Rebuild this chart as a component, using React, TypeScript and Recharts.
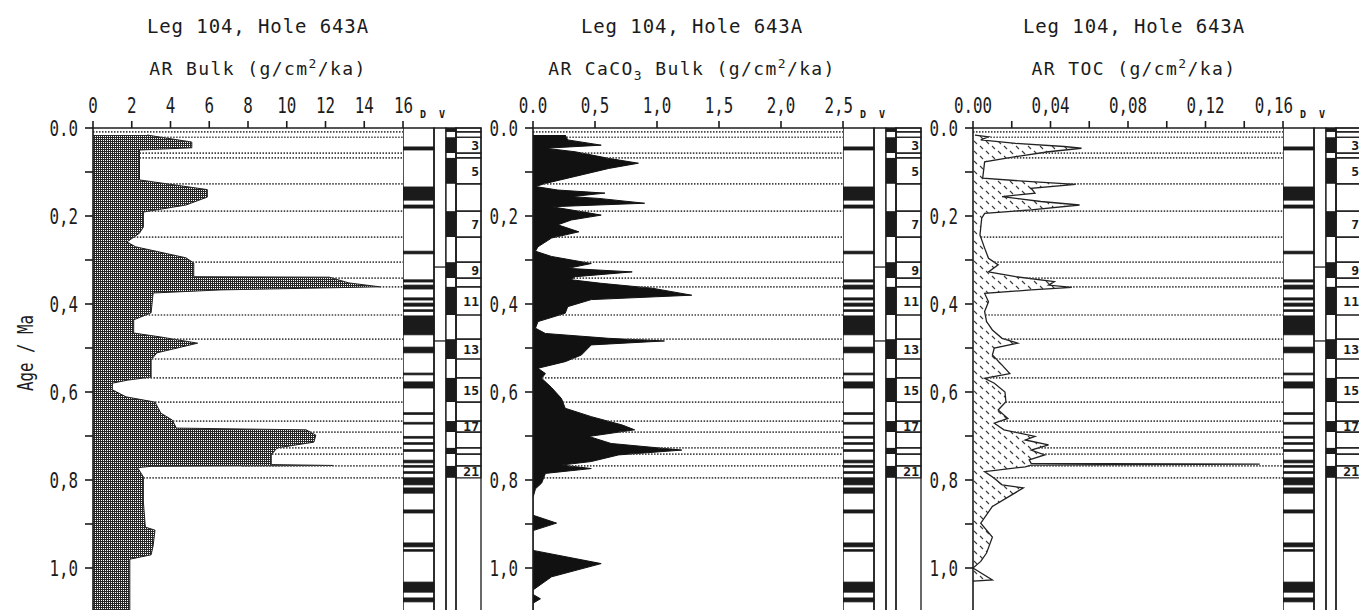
import React from "react";
import {
  ComposedChart,
  Area,
  Line,
  XAxis,
  YAxis,
  ReferenceLine,
  ReferenceArea,
} from "recharts";

// AR Bulk (age in Ma, rate in g/cm2/ka)
const bulkAge = [
  0.016, 0.032, 0.045, 0.05, 0.118, 0.14, 0.157, 0.175, 0.191, 0.225, 0.239,
  0.259, 0.27, 0.295, 0.307, 0.338, 0.339, 0.352, 0.361, 0.368, 0.375, 0.42,
  0.436, 0.466, 0.475, 0.489, 0.511, 0.527, 0.566, 0.573, 0.58, 0.595, 0.611,
  0.623, 0.648, 0.664, 0.682, 0.686, 0.698, 0.714, 0.727, 0.743, 0.765, 0.767,
  0.769, 0.772, 0.793, 0.85, 0.907, 0.914, 0.95, 0.97, 0.98, 1.1,
];
const bulkRate = [
  2.8, 5.1, 5.1, 2.4, 2.4, 5.9, 5.9, 4.8, 2.6, 2.6, 2.4, 1.75, 2.2, 4.8, 5.2,
  5.2, 12.2, 13.2, 14.8, 6.6, 3.1, 3.0, 2.1, 2.1, 3.5, 5.4, 3.3, 3.0, 3.0, 1.8,
  1.0, 1.0, 1.7, 3.2, 3.5, 4.1, 4.3, 11.0, 11.5, 11.4, 9.5, 9.2, 9.2, 12.4, 3.0,
  2.3, 2.6, 2.6, 2.7, 3.2, 3.1, 3.0, 1.9, 1.9,
];

// AR CaCO3 bulk, middle plot
const carbAge = [
  0.016, 0.027, 0.039, 0.046, 0.054, 0.069, 0.08, 0.092, 0.11, 0.126, 0.133,
  0.141, 0.148, 0.156, 0.16, 0.171, 0.179, 0.19, 0.198, 0.209, 0.22, 0.236,
  0.25, 0.27, 0.28, 0.292, 0.308, 0.319, 0.327, 0.338, 0.345, 0.353, 0.364,
  0.38, 0.39, 0.406, 0.421, 0.44, 0.455, 0.467, 0.478, 0.484, 0.493, 0.516,
  0.531, 0.546, 0.558, 0.569, 0.59, 0.615, 0.637, 0.656, 0.675, 0.686, 0.701,
  0.717, 0.732, 0.743, 0.758, 0.766, 0.774, 0.785, 0.807, 0.82, 0.84, 0.88,
  0.898, 0.915, 0.96, 0.99, 1.02, 1.05, 1.06, 1.07, 1.08, 1.1,
];
const carbRate = [
  0.26, 0.28, 0.55, 0.1, 0.34, 0.61, 0.85, 0.61, 0.34, 0.1, 0.02, 0.2, 0.58,
  0.31, 0.53, 0.9, 0.15, 0.39, 0.55, 0.31, 0.2, 0.37, 0.15, 0.04, 0.02, 0.15,
  0.47, 0.28, 0.8, 0.34, 0.31, 0.55, 0.96, 1.28, 0.47, 0.28, 0.26, 0.04, 0.02,
  0.1, 0.61, 1.06, 0.47, 0.39, 0.26, 0.04, 0.1, 0.07, 0.15, 0.23, 0.26, 0.47,
  0.72, 0.82, 0.45, 0.63, 1.2, 0.69, 0.47, 0.23, 0.47, 0.1, 0.07, 0.02, 0.0,
  0.0, 0.19, 0.0, 0.0, 0.55, 0.15, 0.0, 0.0, 0.06, 0.0, 0.0,
];

// AR TOC, right plot
const tocAge = [
  0.016, 0.02, 0.027, 0.035, 0.042, 0.046, 0.054, 0.065, 0.077, 0.114, 0.122,
  0.128, 0.137, 0.148, 0.156, 0.167, 0.175, 0.186, 0.194, 0.205, 0.243, 0.273,
  0.296, 0.311, 0.327, 0.338, 0.349, 0.357, 0.362, 0.368, 0.376, 0.395, 0.417,
  0.44, 0.459, 0.478, 0.489, 0.5, 0.516, 0.539, 0.558, 0.569, 0.58, 0.6, 0.622,
  0.641, 0.66, 0.671, 0.686, 0.701, 0.709, 0.72, 0.732, 0.743, 0.754, 0.762,
  0.764, 0.766, 0.77, 0.781, 0.796, 0.811, 0.818, 0.86, 0.898, 0.93, 0.966,
  0.985, 1.0, 1.027, 1.03,
];
const tocRate = [
  0.001, 0.008, 0.004, 0.022, 0.047, 0.056, 0.039, 0.022, 0.006, 0.005, 0.03,
  0.053, 0.03, 0.032, 0.015, 0.035, 0.055, 0.03, 0.006, 0.0045, 0.0036, 0.006,
  0.008, 0.013, 0.008, 0.022, 0.042, 0.039, 0.051, 0.03, 0.006, 0.008, 0.006,
  0.007, 0.01, 0.015, 0.023, 0.011, 0.01, 0.015, 0.019, 0.006, 0.011, 0.0165,
  0.017, 0.013, 0.018, 0.011, 0.016, 0.032, 0.027, 0.039, 0.03, 0.037, 0.029,
  0.03, 0.148, 0.03, 0.027, 0.006, 0.011, 0.015, 0.026, 0.01, 0.004, 0.01,
  0.007, 0.004, 0.0, 0.01, 0.0,
];

// isotope stage boundaries (Ma), stage n ends at stageBounds[n-1]
const stageBounds = [
  0.009, 0.021, 0.057, 0.068, 0.127, 0.189, 0.248, 0.305, 0.341, 0.361, 0.425,
  0.48, 0.525, 0.568, 0.623, 0.666, 0.691, 0.727, 0.741, 0.768, 0.795,
];
const stageNumbers = [3, 5, 7, 9, 11, 13, 15, 17, 21];

// D column black bands (top, bottom in Ma)
const dTop = [
  0.043, 0.134, 0.175, 0.28, 0.345, 0.357, 0.386, 0.398, 0.413, 0.427, 0.498,
  0.557, 0.577, 0.647, 0.669, 0.701, 0.715, 0.731, 0.755, 0.767, 0.781, 0.795,
  0.818, 0.868, 0.943, 0.958, 1.032, 1.068,
];
const dBottom = [
  0.05, 0.164, 0.182, 0.286, 0.35, 0.366, 0.391, 0.405, 0.417, 0.47, 0.511,
  0.561, 0.591, 0.651, 0.673, 0.705, 0.719, 0.735, 0.761, 0.771, 0.785, 0.811,
  0.83, 0.875, 0.952, 0.962, 1.055, 1.077,
];
// V column steps
const vSteps = [0.316, 0.484];

const ageTicks = [0, 0.1, 0.2, 0.3, 0.4, 0.5, 0.6, 0.7, 0.8, 0.9, 1.0, 1.1];
const bulkTicks = [0, 2, 4, 6, 8, 10, 12, 14, 16];
const carbTicks = [0, 0.5, 1.0, 1.5, 2.0, 2.5];
const tocTicks = [0, 0.02, 0.04, 0.06, 0.08, 0.1, 0.12, 0.14, 0.16];

const FONT = '"DejaVu Sans Mono", "Liberation Mono", monospace';
const INK = "#1b1b1b";
const PLOT_W = 310;
const PLOT_TOP = 128;
const PLOT_H = 484;
const AXIS_W = 60;
const AGE_MAX = 1.1;
const COL_W = 78;

function interp(ages: number[], vals: number[], a: number) {
  if (a < ages[0] || a > ages[ages.length - 1]) return 0;
  for (let i = 1; i < ages.length; i++) {
    if (a <= ages[i]) {
      const t = (a - ages[i - 1]) / (ages[i] - ages[i - 1]);
      return vals[i - 1] + t * (vals[i] - vals[i - 1]);
    }
  }
  return 0;
}

function fmt(v: number, digits: number) {
  if (v === 0) return (0).toFixed(digits);
  return v.toFixed(digits).replace(".", ",");
}

const axisStroke = { stroke: INK, strokeWidth: 1.6 };

function YTick(p: any) {
  const v = p.payload.value;
  if (Math.round(v * 10) % 2 !== 0) return <g />;
  return (
    <text
      transform={`translate(${p.x},${p.y + 8}) scale(0.72,1)`}
      textAnchor="end"
      fontFamily={FONT}
      fontSize={22}
      fill={INK}
    >
      {fmt(v, 1)}
    </text>
  );
}

interface PanelProps {
  left: number;
  ages: number[];
  rates: number[];
  xMax: number;
  xTicks: number[];
  digits: number;
  labelled: (v: number) => boolean;
  fill: string;
  stroke: string;
  strokeWidth: number;
}

function Columns({ left }: { left: number }) {
  // one row per stage boundary so the chart has data on its scales
  const rows = stageBounds.map((b) => ({ age: b, pos: COL_W }));
  return (
    <div style={{ position: "absolute", left: left + PLOT_W, top: 0 }}>
      <ComposedChart
        layout="vertical"
        width={COL_W + 4}
        height={PLOT_TOP + PLOT_H}
        data={rows}
        margin={{ top: PLOT_TOP, right: 4, bottom: 0, left: 0 }}
      >
        <XAxis type="number" hide domain={[0, COL_W]} allowDataOverflow />
        <YAxis type="number" dataKey="age" hide domain={[0, AGE_MAX]} allowDataOverflow />
        <Line dataKey="pos" stroke="none" dot={false} activeDot={false} isAnimationActive={false} />
        <ReferenceArea x1={0} x2={31} y1={0} y2={AGE_MAX} fill="#fff" fillOpacity={1} stroke={INK} strokeWidth={1.5} ifOverflow="visible" />
        {dTop.map((t, i) => (
          <ReferenceArea key={"d" + i} x1={0} x2={31} y1={t} y2={dBottom[i]} fill={INK} fillOpacity={1} stroke={INK} strokeWidth={0.8} ifOverflow="visible" />
        ))}
        <ReferenceArea x1={31} x2={43} y1={0} y2={AGE_MAX} fill="none" stroke={INK} strokeWidth={1.3} ifOverflow="visible" />
        {vSteps.map((a) => (
          <ReferenceLine key={"v" + a} segment={[{ x: 31, y: a }, { x: 43, y: a }]} stroke={INK} strokeWidth={1.3} />
        ))}
        {stageBounds.map((b, i) => {
          const n = i + 1;
          return (
            <ReferenceArea
              key={"s" + n}
              x1={43}
              x2={53}
              y1={i === 0 ? 0 : stageBounds[i - 1]}
              y2={b}
              fill={n % 2 === 1 ? INK : "#fff"}
              fillOpacity={1}
              stroke="none"
              ifOverflow="visible"
            />
          );
        })}
        <ReferenceArea x1={43} x2={53} y1={0} y2={AGE_MAX} fill="none" stroke={INK} strokeWidth={1.3} ifOverflow="visible" />
        <ReferenceArea x1={53} x2={COL_W} y1={0} y2={AGE_MAX} fill="none" stroke={INK} strokeWidth={1.3} ifOverflow="visible" />
        {stageBounds.map((b, i) => {
          const n = i + 1;
          return (
            <ReferenceArea
              key={"n" + n}
              x1={53}
              x2={COL_W}
              y1={i === 0 ? 0 : stageBounds[i - 1]}
              y2={b}
              fill="none"
              stroke={INK}
              strokeWidth={1.2}
              ifOverflow="visible"
              label={
                stageNumbers.includes(n)
                  ? {
                      value: String(n),
                      position: "insideRight",
                      offset: 2,
                      fontFamily: FONT,
                      fontSize: 13,
                      fontWeight: "bold",
                      fill: INK,
                    }
                  : undefined
              }
            />
          );
        })}
      </ComposedChart>
    </div>
  );
}

function Panel({
  left,
  ages,
  rates,
  xMax,
  xTicks,
  digits,
  labelled,
  fill,
  stroke,
  strokeWidth,
}: PanelProps) {
  const rows = ages.map((a, i) => ({ age: a, v: rates[i] }));
  const XTick = (p: any) => {
    const v = p.payload.value;
    if (!labelled(v)) return <g />;
    const last = v === xMax;
    return (
      <text
        transform={`translate(${last ? p.x + 10 : p.x},${p.y - 5}) scale(0.72,1)`}
        textAnchor={last ? "end" : "middle"}
        fontFamily={FONT}
        fontSize={22}
        fill={INK}
      >
        {fmt(v, digits)}
      </text>
    );
  };

  return (
    <>
      <div style={{ position: "absolute", left: left - AXIS_W, top: 0 }}>
        <ComposedChart
          layout="vertical"
          width={AXIS_W + PLOT_W + 20}
          height={PLOT_TOP + PLOT_H}
          data={rows}
          margin={{ top: PLOT_TOP - 30, right: 20, bottom: 0, left: 0 }}
        >
          <defs>
            <pattern id="screen" width="2" height="2" patternUnits="userSpaceOnUse">
              <rect width="2" height="2" fill="#262626" />
              <rect width="1" height="1" fill="#ffffff" />
            </pattern>
            <pattern id="dashes" width="12" height="10" patternUnits="userSpaceOnUse">
              <rect width="12" height="10" fill="#ffffff" />
              <path d="M1 1 L4 4 M7 6 L10 9" stroke="#3a3a3a" strokeWidth="1.1" />
            </pattern>
          </defs>
          <XAxis
            type="number"
            orientation="top"
            domain={[0, xMax]}
            ticks={xTicks}
            interval={0}
            height={30}
            tickSize={7}
            tickMargin={3}
            tick={XTick}
            axisLine={axisStroke}
            tickLine={axisStroke}
            allowDataOverflow
          />
          <YAxis
            type="number"
            dataKey="age"
            domain={[0, AGE_MAX]}
            ticks={ageTicks}
            interval={0}
            width={AXIS_W}
            tickSize={8}
            tickMargin={7}
            tick={YTick}
            axisLine={axisStroke}
            tickLine={axisStroke}
            allowDataOverflow
          />
          <Area
            type="linear"
            dataKey="v"
            fill={fill}
            fillOpacity={1}
            stroke={stroke}
            strokeWidth={strokeWidth}
            dot={false}
            activeDot={false}
            isAnimationActive={false}
          />
          {stageBounds.map((a) => (
            <ReferenceLine
              key={a}
              segment={[
                { x: interp(ages, rates, a), y: a },
                { x: xMax, y: a },
              ]}
              stroke="#444"
              strokeWidth={1.7}
              strokeDasharray="1.5 1.5"
            />
          ))}
        </ComposedChart>
      </div>
      <Columns left={left} />
    </>
  );
}

const titleStyle = { fontFamily: FONT, fill: INK } as const;

export default function App() {
  const lefts = [93, 533, 973];
  const centers = [258, 692, 1134];
  return (
    <div
      style={{
        position: "absolute",
        left: 0,
        top: 0,
        width: 1359,
        height: 610,
        overflow: "hidden",
        background: "#fff",
      }}
    >
      <Panel
        left={lefts[0]}
        ages={bulkAge}
        rates={bulkRate}
        xMax={16}
        xTicks={bulkTicks}
        digits={0}
        labelled={() => true}
        fill="url(#screen)"
        stroke="#222"
        strokeWidth={1}
      />
      <Panel
        left={lefts[1]}
        ages={carbAge}
        rates={carbRate}
        xMax={2.5}
        xTicks={carbTicks}
        digits={1}
        labelled={() => true}
        fill="#111"
        stroke="#111"
        strokeWidth={1}
      />
      <Panel
        left={lefts[2]}
        ages={tocAge}
        rates={tocRate}
        xMax={0.16}
        xTicks={tocTicks}
        digits={2}
        labelled={(v) => Math.round(v * 100) % 4 === 0}
        fill="url(#dashes)"
        stroke="#222"
        strokeWidth={1.3}
      />
      <svg
        width={1359}
        height={610}
        style={{ position: "absolute", left: 0, top: 0, pointerEvents: "none" }}
      >
        {centers.map((c, i) => (
          <text key={"t" + i} x={c} y={33} textAnchor="middle" fontSize={19} letterSpacing={0.9} {...titleStyle}>
            Leg 104, Hole 643A
          </text>
        ))}
        <text x={centers[0]} y={75} textAnchor="middle" fontSize={18} letterSpacing={1.4} {...titleStyle}>
          AR Bulk (g/cm<tspan dy={-7} fontSize={13}>2</tspan>
          <tspan dy={7}>/ka)</tspan>
        </text>
        <text x={centers[1]} y={75} textAnchor="middle" fontSize={18} letterSpacing={1.4} {...titleStyle}>
          AR CaCO<tspan dy={5} fontSize={13}>3</tspan>
          <tspan dy={-5}> Bulk (g/cm</tspan>
          <tspan dy={-7} fontSize={13}>2</tspan>
          <tspan dy={7}>/ka)</tspan>
        </text>
        <text x={centers[2]} y={75} textAnchor="middle" fontSize={18} letterSpacing={1.4} {...titleStyle}>
          AR TOC (g/cm<tspan dy={-7} fontSize={13}>2</tspan>
          <tspan dy={7}>/ka)</tspan>
        </text>
        {lefts.map((l, i) => (
          <g key={"dv" + i}>
            <text x={l + 330} y={118} textAnchor="middle" fontSize={10} fontWeight="bold" {...titleStyle}>
              D
            </text>
            <text x={l + 349} y={118} textAnchor="middle" fontSize={10} fontWeight="bold" {...titleStyle}>
              V
            </text>
          </g>
        ))}
        <text
          transform="translate(33,353) rotate(-90) scale(0.72,1)"
          textAnchor="middle"
          fontSize={22}
          {...titleStyle}
        >
          Age / Ma
        </text>
      </svg>
    </div>
  );
}
